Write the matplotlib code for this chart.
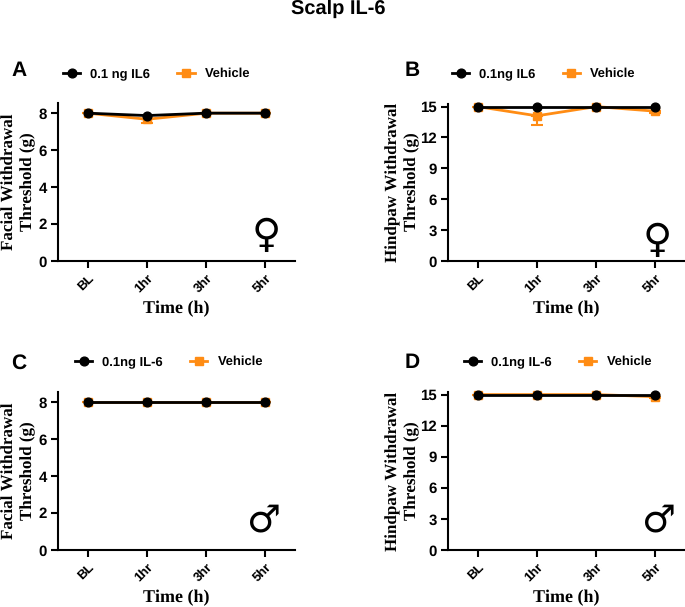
import matplotlib
matplotlib.use("Agg")
import matplotlib.pyplot as plt

plt.rcParams["text.hinting"] = "no_hinting"
plt.rcParams["text.hinting_factor"] = 1

W, H = 685, 607

times = ["BL", "1hr", "3hr", "5hr"]

a_il6 = [8, 7.87, 8, 8]
a_veh = [8, 7.67, 8, 8]
a_err = [0, 0.22, 0, 0]

b_il6 = [15, 15, 15, 15]
b_veh = [15, 14.1, 15, 14.55]
b_err = [0, 0.9, 0, 0.2]

c_il6 = [8, 8, 8, 8]
c_veh = [8, 8, 8, 8]
c_err = [0, 0, 0, 0]

d_il6 = [15, 15, 15, 15]
d_veh = [15, 15, 15, 14.8]
d_err = [0, 0, 0, 0.1]

BLACK = "#000000"
ORANGE = "#ff8c14"
SANS = "Liberation Sans"
SERIF = "Liberation Serif"


def panel(left, right, y0, ytop, ymax, yticks, il6, veh, err, il6_label, ylabel, ylabel_x,
          letter, letter_xy, legend_x, legend_y, symbol, symbol_xy, symbol_size):
    ax = fig.add_axes([left / W, 1 - y0 / H, (right - left) / W, (y0 - ytop) / H])
    x = range(len(times))
    veh_bars = ax.errorbar(x, veh, yerr=[[e for e in err], [0 for e in err]], color=ORANGE, lw=2,
                           marker="s", ms=6.3, capsize=4, capthick=1.5, elinewidth=1.5,
                           clip_on=False, zorder=3)
    il6_line, = ax.plot(x, il6, color=BLACK, lw=2, marker="o", ms=6.3,
                        clip_on=False, zorder=4)
    ax.set_xlim(-0.5, 3.5)
    ax.set_ylim(0, ymax)
    ax.set_yticks(yticks)
    ax.set_xticks(list(x))
    ax.set_xticklabels(times, rotation=45, ha="right", rotation_mode="anchor")
    for s in ["top", "right"]:
        ax.spines[s].set_visible(False)
    for s in ["left", "bottom"]:
        ax.spines[s].set_linewidth(1.5)
    ax.tick_params(width=1.5, length=5, pad=3)
    for t in ax.get_xticklabels():
        t.set_fontfamily(SANS)
        t.set_fontweight("bold")
        t.set_fontsize(9.5)
    for t in ax.get_yticklabels():
        t.set_fontfamily(SANS)
        t.set_fontweight("bold")
        t.set_fontsize(10.5)
    ax.set_xlabel("Time (h)", family=SERIF, weight="bold", fontsize=13, labelpad=4)
    fig.text(ylabel_x / W, 1 - (y0 - 79) / H, ylabel, family=SERIF, weight="bold",
             fontsize=12.5, rotation=90, ha="center", va="center", linespacing=1.25,
             multialignment="center")
    fig.text(letter_xy[0] / W, 1 - letter_xy[1] / H, letter, family=SANS, weight="bold",
             fontsize=15, ha="left", va="center")
    # legend uses the plain vehicle line so no error bar shows in the key
    fig.legend([il6_line, veh_bars[0]], [il6_label, "Vehicle"], ncol=2,
               frameon=False, loc="center left",
               bbox_to_anchor=(legend_x / W, 1 - legend_y / H),
               prop={"family": SANS, "weight": "bold", "size": 9.2},
               handlelength=1.35, columnspacing=2.1, handletextpad=0.8, borderpad=0, borderaxespad=0)
    fig.text(symbol_xy[0] / W, 1 - symbol_xy[1] / H, symbol, family="DejaVu Sans",
             fontsize=symbol_size, ha="center", va="center")


fig = plt.figure(figsize=(W / 100, H / 100), dpi=100)

fig.text(338 / W, 1 - 9 / H, "Scalp IL-6", family=SANS, weight="bold", fontsize=14.5,
         ha="center", va="center")

panel(58, 295, 261, 103, 8.55, [0, 2, 4, 6, 8], a_il6, a_veh, a_err, "0.1 ng IL6",
      "Facial Withdrawal\nThreshold (g)", 19, "A", (11, 71), 63, 74, "\u2640", (266, 236), 29)
panel(448, 685, 261, 104, 15.25, [0, 3, 6, 9, 12, 15], b_il6, b_veh, b_err, "0.1ng IL6",
      "Hindpaw Withdrawal\nThreshold (g)", 403, "B", (405, 71), 452, 74, "\u2640", (657, 241), 29)
panel(58, 295, 550, 392, 8.55, [0, 2, 4, 6, 8], c_il6, c_veh, c_err, "0.1ng IL-6",
      "Facial Withdrawal\nThreshold (g)", 19, "C", (11, 363), 75, 362, "\u2642", (264, 521), 27)
panel(448, 685, 550, 392, 15.25, [0, 3, 6, 9, 12, 15], d_il6, d_veh, d_err, "0.1ng IL-6",
      "Hindpaw Withdrawal\nThreshold (g)", 403, "D", (405, 363), 464, 362, "\u2642", (659, 521), 27)

fig.savefig("out.png", dpi=100)
